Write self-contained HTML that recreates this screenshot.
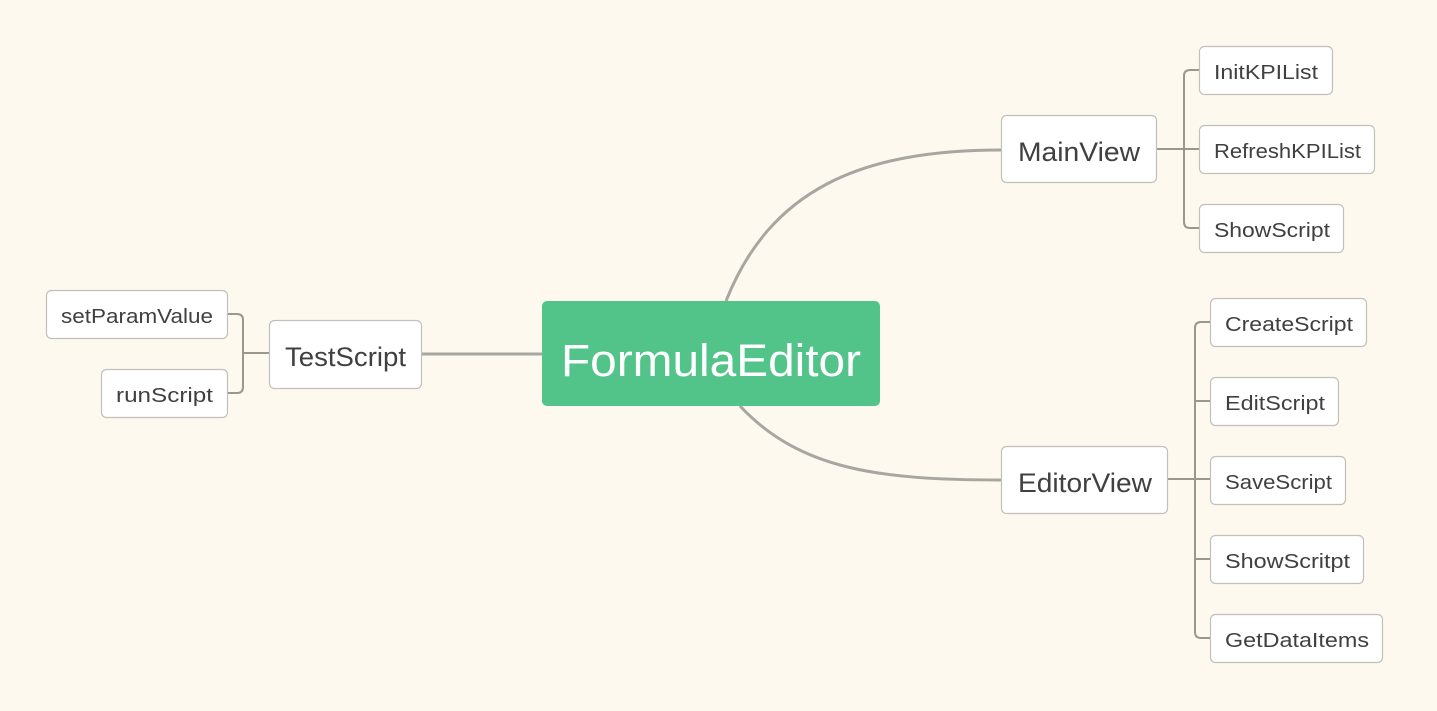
<!DOCTYPE html>
<html><head><meta charset="utf-8"><style>
html,body{margin:0;padding:0;background:#fdf9ee;}
svg{display:block}
text{font-family:"Liberation Sans","DejaVu Sans",sans-serif;fill:#404040}
</style></head><body>
<svg width="1437" height="711" viewBox="0 0 1437 711" xmlns="http://www.w3.org/2000/svg">
<rect width="1437" height="711" fill="#fdf9ee"/>
<g fill="none" stroke="#a8a6a0" stroke-width="3">
<path d="M726,301 C770,190 860,150 1001,150"/>
<path d="M740,406 C800,470 880,480 1001,480"/>
<path d="M421,354 L542,354"/>
</g>
<g fill="none" stroke="#9a978f" stroke-width="2">
<path d="M1156,149 H1199"/>
<path d="M1199,70 H1190 Q1184,70 1184,76 V222 Q1184,228 1190,228 H1199"/>
<path d="M1167,479 H1210"/>
<path d="M1210,322 H1201 Q1195,322 1195,328 V632 Q1195,638 1201,638 H1210"/>
<path d="M1195,401 H1210 M1195,559 H1210"/>
<path d="M269,353 H243"/>
<path d="M227,314 H237 Q243,314 243,320 V387 Q243,393 237,393 H227"/>
</g>
<rect x="542" y="301" width="338" height="105" rx="5" fill="#52c48a"/>
<text x="561" y="376" font-size="45" textLength="300" lengthAdjust="spacingAndGlyphs" style="fill:#fff">FormulaEditor</text>
<g fill="#fff" stroke="#c2c0bb" stroke-width="1.2">
<rect x="1001.5" y="115.5" width="155" height="67" rx="5"/>
<rect x="1001.5" y="446.5" width="166" height="67" rx="5"/>
<rect x="269.5" y="320.5" width="152" height="68" rx="5"/>
<rect x="1199.5" y="46.5" width="133" height="48" rx="5"/>
<rect x="1199.5" y="125.5" width="175" height="48" rx="5"/>
<rect x="1199.5" y="204.5" width="144" height="48" rx="5"/>
<rect x="1210.5" y="298.5" width="156" height="48" rx="5"/>
<rect x="1210.5" y="377.5" width="128" height="48" rx="5"/>
<rect x="1210.5" y="456.5" width="135" height="48" rx="5"/>
<rect x="1210.5" y="535.5" width="153" height="48" rx="5"/>
<rect x="1210.5" y="614.5" width="172" height="48" rx="5"/>
<rect x="46.5" y="290.5" width="181" height="48" rx="5"/>
<rect x="101.5" y="369.5" width="126" height="48" rx="5"/>
</g>
<g font-size="27" lengthAdjust="spacingAndGlyphs">
<text x="1018" y="161" textLength="122" lengthAdjust="spacingAndGlyphs">MainView</text>
<text x="1018" y="492" textLength="134" lengthAdjust="spacingAndGlyphs">EditorView</text>
<text x="285" y="366" textLength="121" lengthAdjust="spacingAndGlyphs">TestScript</text>
</g>
<g font-size="20">
<text x="1214" y="79" textLength="104" lengthAdjust="spacingAndGlyphs">InitKPIList</text>
<text x="1214" y="158" textLength="147" lengthAdjust="spacingAndGlyphs">RefreshKPIList</text>
<text x="1214" y="237" textLength="116" lengthAdjust="spacingAndGlyphs">ShowScript</text>
<text x="1225" y="331" textLength="128" lengthAdjust="spacingAndGlyphs">CreateScript</text>
<text x="1225" y="410" textLength="100" lengthAdjust="spacingAndGlyphs">EditScript</text>
<text x="1225" y="489" textLength="107" lengthAdjust="spacingAndGlyphs">SaveScript</text>
<text x="1225" y="568" textLength="125" lengthAdjust="spacingAndGlyphs">ShowScritpt</text>
<text x="1225" y="647" textLength="144" lengthAdjust="spacingAndGlyphs">GetDataItems</text>
<text x="61" y="323" textLength="152" lengthAdjust="spacingAndGlyphs">setParamValue</text>
<text x="116" y="402" textLength="97" lengthAdjust="spacingAndGlyphs">runScript</text>
</g>
</svg>
</body></html>
